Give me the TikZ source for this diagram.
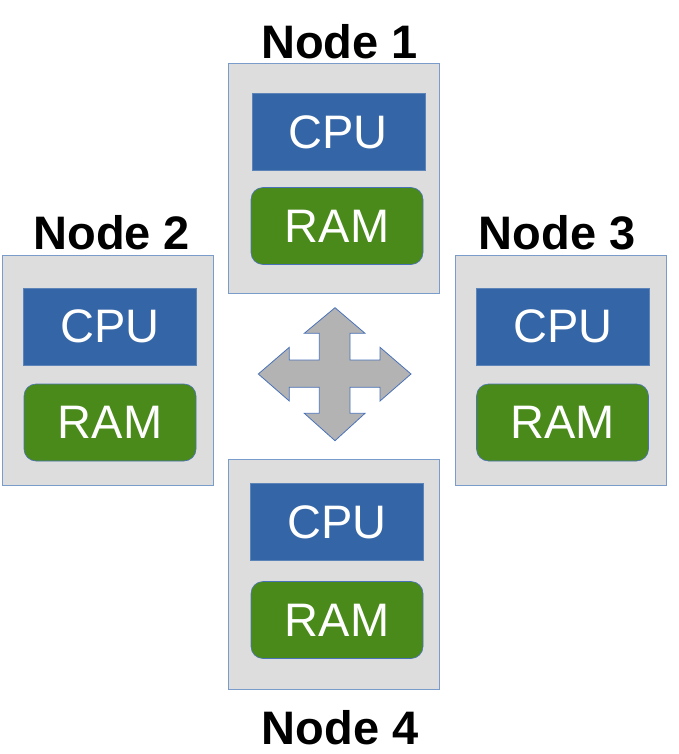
\documentclass[tikz,border=0pt]{standalone}
\usepackage{fontspec}
\setmainfont{Liberation Sans}
\usepackage{tikz}

\definecolor{boxgray}{HTML}{DDDDDD}
\definecolor{boxline}{HTML}{7A9CCB}
\definecolor{cpublue}{HTML}{3465A6}
\definecolor{ramgreen}{HTML}{4A8A1A}
\definecolor{arrowgray}{HTML}{B3B3B3}
\definecolor{arrowline}{HTML}{4A72B8}

\tikzset{
  machine/.style={rectangle, draw=boxline, fill=boxgray, line width=0.8pt, minimum width=211pt, minimum height=230pt, inner sep=0pt},
  cpu/.style={rectangle, fill=cpublue, draw=cpublue!80!white, line width=0.5pt, minimum width=173pt, minimum height=77pt, inner sep=0pt, text=white},
  ram/.style={rectangle, rounded corners=12pt, fill=ramgreen, draw=arrowline, line width=0.6pt, minimum width=172pt, minimum height=77pt, inner sep=0pt, text=white},
  title/.style={anchor=base, inner sep=0pt, font=\fontsize{47}{50}\selectfont\bfseries}
}

\begin{document}
\begin{tikzpicture}[x=1pt, y=-1pt, font=\fontsize{47}{50}\selectfont]
        \useasboundingbox (0,0) rectangle (679,754);
        % node 1 (top)
        \node(101) at (334.2,178) [machine] {};
        \node(102) at (338.3,132) [cpu] {CPU};
        \node(103) at (337,226) [ram] {RAM};
        \node(100) at (339.5,59) [title] {Node 1};
        % node 2 (left)
        \node(201) at (108,370) [machine] {};
        \node(202) at (110,326.5) [cpu] {CPU};
        \node(203) at (110,422.5) [ram] {RAM};
        \node(200) at (111.7,249) [title] {Node 2};
        % node 3 (right)
        \node(301) at (560.5,370) [machine] {};
        \node(302) at (562.7,326.5) [cpu] {CPU};
        \node(303) at (562.5,422.5) [ram] {RAM};
        \node(300) at (557,249) [title] {Node 3};
        % node 4 (bottom)
        \node(401) at (333.7,574) [machine] {};
        \node(402) at (337,522) [cpu] {CPU};
        \node(403) at (337,620) [ram] {RAM};
        \node(400) at (340,744) [title] {Node 4};
        % four-way arrow
        \draw [fill=arrowgray, draw=arrowline, line width=0.8pt, line join=miter]
          (335,307.7) -- (365,333.3) -- (350,333.3) -- (350,360) -- (380,360) -- (380,347.3)
          -- (411,374) -- (380,401) -- (380,387.3) -- (350,387.3) -- (350,413.3) -- (365,413.3)
          -- (335,440.7) -- (304.3,413.3) -- (319.3,413.3) -- (319.3,387.3) -- (289.3,387.3) -- (289.3,401)
          -- (258.3,374) -- (289.3,347.3) -- (289.3,360) -- (319.3,360) -- (319.3,333.3) -- (304.3,333.3) -- cycle;
    \end{tikzpicture}
\end{document}
